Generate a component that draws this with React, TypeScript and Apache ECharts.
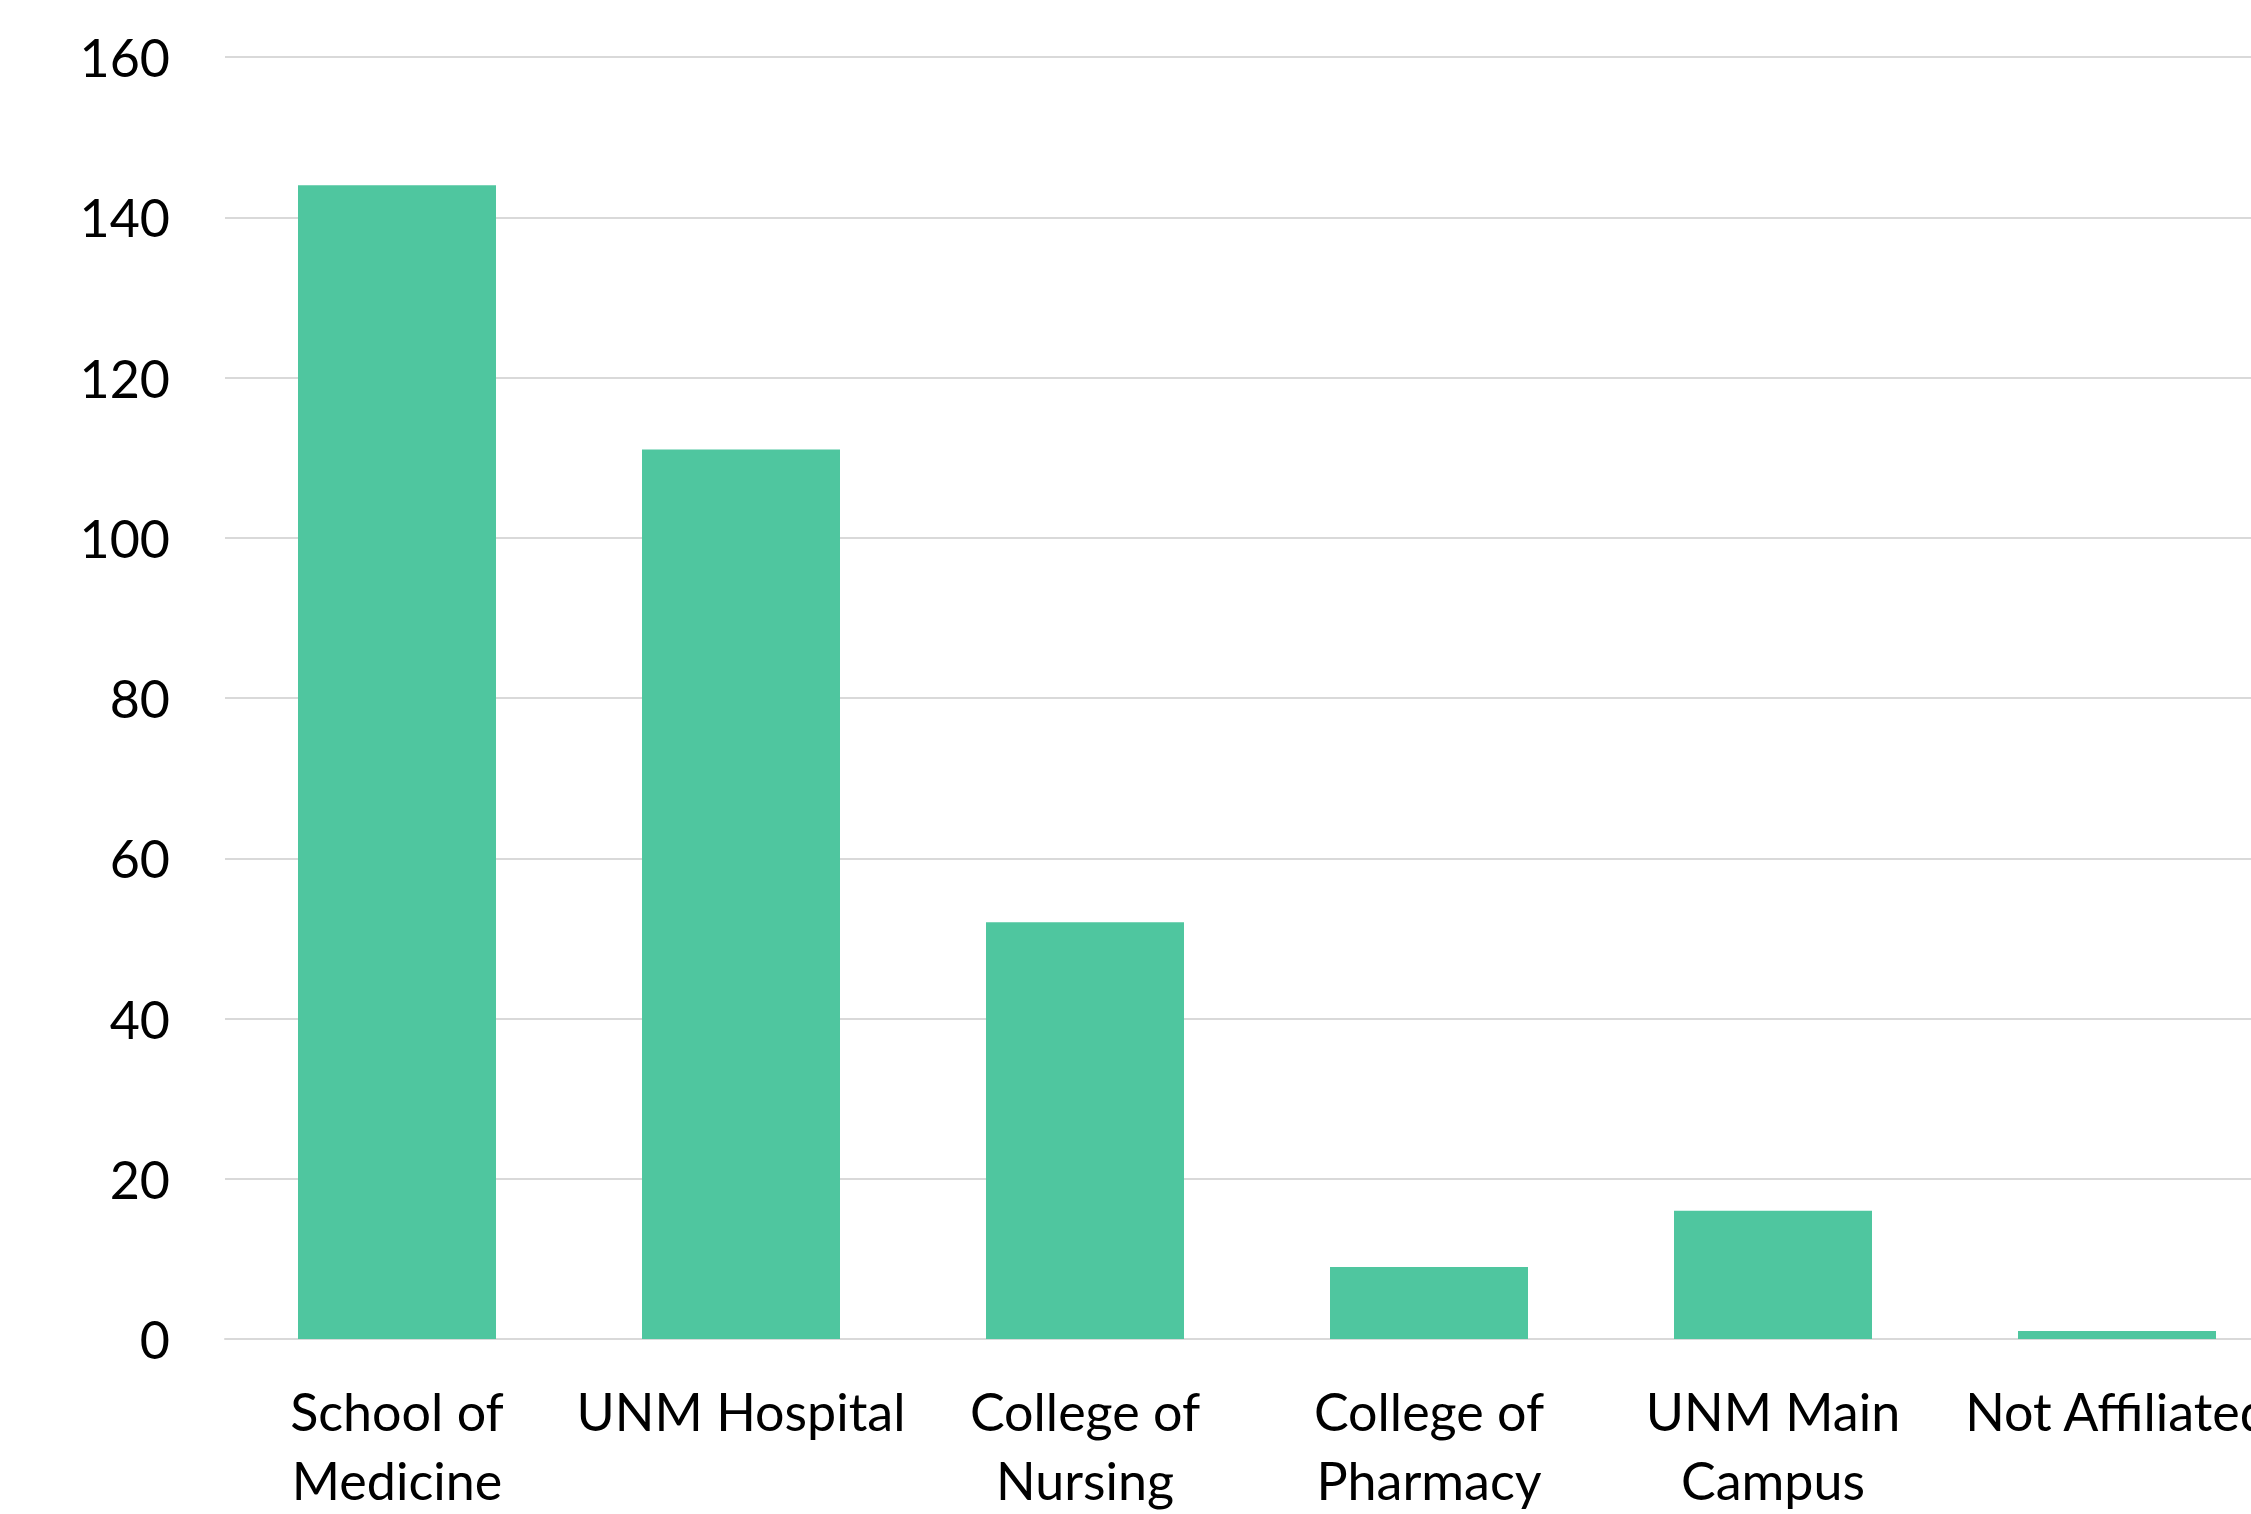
import React, { useEffect, useRef } from "react";
import * as echarts from "echarts";

const categories = [
  "School of\nMedicine",
  "UNM Hospital",
  "College of\nNursing",
  "College of\nPharmacy",
  "UNM Main\nCampus",
  "Not Affiliated",
];
const values = [144, 111, 52, 9, 16, 1];
const yTicks = { min: 0, max: 160, interval: 20 };

export default function App() {
  const ref = useRef<HTMLDivElement>(null);
  useEffect(() => {
    if (!ref.current) return;
    const chart = echarts.init(ref.current, null, { renderer: "svg" });
    const font = "Lato, 'Open Sans', sans-serif";
    chart.setOption({
      animation: false,
      backgroundColor: "#ffffff",
      grid: { left: 225, top: 57, width: 2064, height: 1282, containLabel: false },
      xAxis: {
        type: "category",
        data: categories,
        axisTick: { show: false },
        axisLine: { show: true, lineStyle: { color: "#d9d9d9", width: 2 } },
        axisLabel: {
          interval: 0,
          margin: 37,
          color: "#000000",
          fontFamily: font,
          fontSize: 52,
          lineHeight: 69,
          align: "center",
        },
      },
      yAxis: {
        type: "value",
        min: yTicks.min,
        max: yTicks.max,
        interval: yTicks.interval,
        axisLine: { show: false },
        axisTick: { show: false },
        splitLine: { show: true, lineStyle: { color: "#d9d9d9", width: 2 } },
        axisLabel: {
          margin: 55,
          color: "#000000",
          fontFamily: font,
          fontSize: 52,
        },
      },
      series: [
        {
          type: "bar",
          data: values,
          barWidth: 198,
          itemStyle: { color: "#4FC69F" },
        },
      ],
    });
    return () => chart.dispose();
  }, []);
  return (
    <div
      style={{
        position: "fixed",
        left: 0,
        top: 0,
        width: 2251,
        height: 1514,
        overflow: "hidden",
        background: "#fff",
      }}
    >
      <div ref={ref} style={{ width: 2320, height: 1514 }} />
    </div>
  );
}
